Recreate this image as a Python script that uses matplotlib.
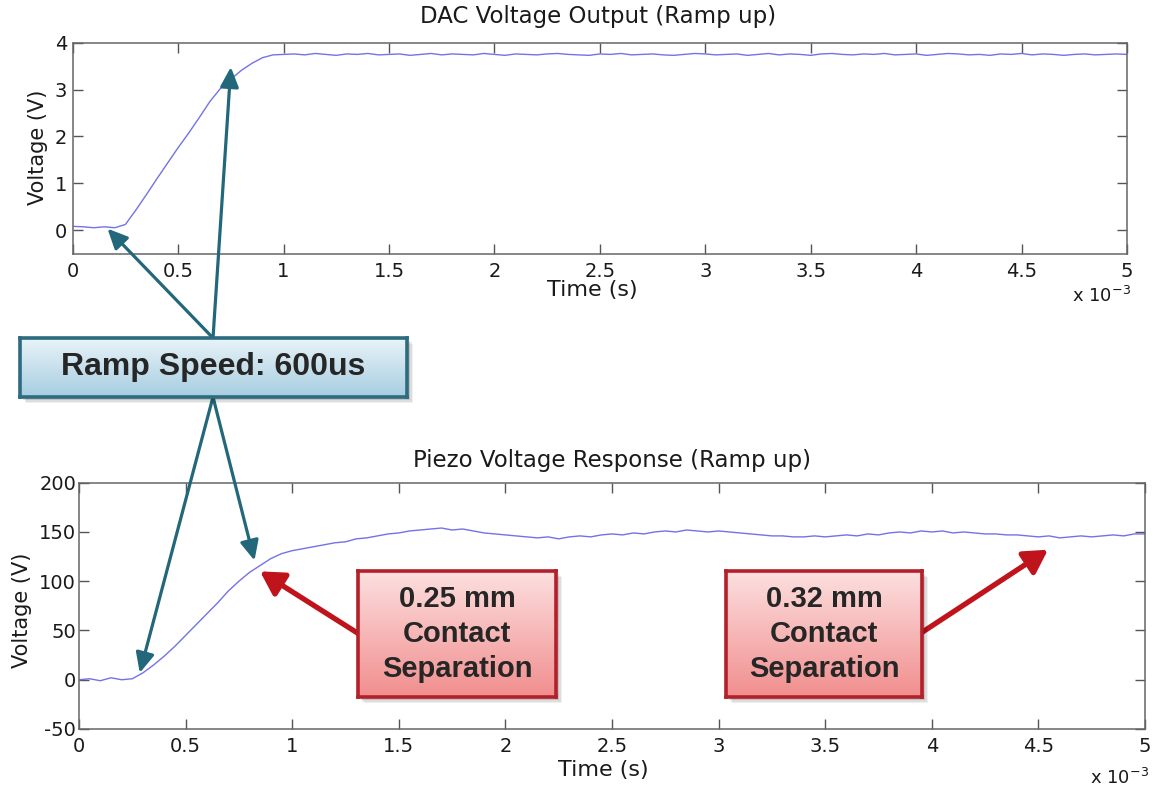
import numpy as np
import matplotlib
matplotlib.use('Agg')
import matplotlib.pyplot as plt
from matplotlib.patches import Rectangle
from matplotlib.colors import LinearSegmentedColormap

# ---------------- data ----------------
time_ms = np.linspace(0, 5, 101)

dac_voltage = [
    0.08, 0.07, 0.05, 0.07, 0.05, 0.12, 0.43, 0.76, 1.10, 1.43,
    1.76, 2.07, 2.40, 2.74, 3.02, 3.22, 3.41, 3.56, 3.68, 3.74,
    3.75,
    3.76, 3.74, 3.77, 3.75, 3.73, 3.76, 3.75, 3.77, 3.74, 3.75,
    3.76, 3.73, 3.75, 3.77, 3.74, 3.76, 3.75, 3.74, 3.77, 3.75,
    3.73, 3.76, 3.75, 3.74, 3.76, 3.77, 3.75, 3.74, 3.73, 3.76,
    3.75, 3.77, 3.74, 3.75, 3.76, 3.74, 3.73, 3.75, 3.77, 3.76,
    3.74, 3.75, 3.76, 3.73, 3.75, 3.77, 3.74, 3.76, 3.75, 3.73,
    3.76, 3.77, 3.75, 3.74, 3.76, 3.75, 3.77, 3.74, 3.75, 3.76,
    3.73, 3.75, 3.77, 3.76, 3.74, 3.75, 3.73, 3.76, 3.75, 3.77,
    3.74, 3.76, 3.75, 3.73, 3.75, 3.76, 3.74, 3.75, 3.76, 3.75,
]

piezo_voltage = [
    0, 1, -1, 2, 0, 1, 7, 15, 24, 34,
    45, 56, 67, 78, 90, 100, 109, 116, 123, 128,
    131, 133, 135, 137, 139, 140, 143, 144, 146, 148,
    149, 151, 152, 153, 154, 152, 153, 151, 149, 148,
    147, 146, 145, 144, 145, 143, 145, 146, 145, 147,
    148, 147, 149, 148, 150, 151, 150, 152, 151, 150,
    151, 150, 149, 148, 147, 146, 146, 145, 145, 146,
    145, 146, 147, 146, 148, 147, 149, 150, 149, 151,
    150, 151, 149, 150, 149, 148, 148, 147, 147, 146,
    145, 146, 144, 145, 146, 145, 146, 147, 146, 148,
    148,
]

x_ticks = [0, 0.5, 1, 1.5, 2, 2.5, 3, 3.5, 4, 4.5, 5]
x_tick_labels = ['0', '0.5', '1', '1.5', '2', '2.5', '3', '3.5', '4', '4.5', '5']
dac_y_ticks = [0, 1, 2, 3, 4]
piezo_y_ticks = [-50, 0, 50, 100, 150, 200]

top_title = 'DAC Voltage Output (Ramp up)'
bottom_title = 'Piezo Voltage Response (Ramp up)'
x_label = 'Time (s)'
y_label = 'Voltage (V)'
ramp_text = 'Ramp Speed: 600us'
sep1_text = '0.25 mm\nContact\nSeparation'
sep2_text = '0.32 mm\nContact\nSeparation'

# arrow targets (data coords: ms, V)
ramp_targets_top = [(0.165, 0.03), (0.75, 3.48)]
ramp_targets_bottom = [(0.285, 7), (0.823, 121)]
sep1_target = (0.849, 110)
sep2_target = (4.545, 132)

# ---------------- figure ----------------
W, H = 1155, 789
fig = plt.figure(figsize=(W / 100, H / 100), dpi=100)
fig.patch.set_facecolor('white')


def fx(px):
    return px / W


def fy(py):
    return 1 - py / H


ax1 = fig.add_axes([fx(72.7), fy(253.5), (1127 - 72.7) / W, (253.5 - 42.7) / H])
ax2 = fig.add_axes([fx(79), fy(729), (1145 - 79) / W, (729 - 482.7) / H])

line_color = '#7272ea'
ax1.plot(time_ms, dac_voltage, color=line_color, lw=1.0)
ax2.plot(time_ms, piezo_voltage, color=line_color, lw=1.0)

ax1.set_ylim(-0.5, 4)
ax1.set_yticks(dac_y_ticks)
ax1.set_yticklabels([str(v) for v in dac_y_ticks])
ax2.set_ylim(-50, 200)
ax2.set_yticks(piezo_y_ticks)
ax2.set_yticklabels([str(v) for v in piezo_y_ticks])

for ax, ypad in ((ax1, 4), (ax2, 2)):
    ax.set_xlim(0, 5)
    ax.set_xticks(x_ticks)
    ax.set_xticklabels(x_tick_labels)
    ax.tick_params(direction='in', length=7, width=1, color='#555555',
                   top=True, right=True, labelsize=14, labelcolor='#1a1a1a')
    ax.tick_params(axis='x', pad=6)
    ax.tick_params(axis='y', pad=ypad)
    for s in ax.spines.values():
        s.set_color('#666666')
        s.set_linewidth(1.1)

txt_col = '#1a1a1a'
fig.text(fx(598), fy(17), top_title, ha='center', va='center', fontsize=16.5, color=txt_col)
fig.text(fx(612), fy(460), bottom_title, ha='center', va='center', fontsize=16.5, color=txt_col)
fig.text(fx(592), fy(290), x_label, ha='center', va='center', fontsize=16, color=txt_col)
fig.text(fx(603), fy(770), x_label, ha='center', va='center', fontsize=16, color=txt_col)
fig.text(fx(38), fy(147), y_label, ha='center', va='center', rotation=90, fontsize=15, color=txt_col)
fig.text(fx(22), fy(610), y_label, ha='center', va='center', rotation=90, fontsize=15, color=txt_col)
fig.text(fx(1072), fy(296), r'x 10$^{-3}$', ha='left', va='center', fontsize=13, color=txt_col)
fig.text(fx(1090), fy(778), r'x 10$^{-3}$', ha='left', va='center', fontsize=13, color=txt_col)

# ---------------- arrows ----------------
teal = '#22677a'
teal_ap = dict(arrowstyle='-|>,head_length=0.6,head_width=0.28', color=teal, lw=2.3,
               shrinkA=0, shrinkB=0, mutation_scale=20)
for tgt in ramp_targets_top:
    ax1.annotate('', xy=tgt, xycoords='data', xytext=(213, H - 338), textcoords='figure pixels',
                 arrowprops=teal_ap, annotation_clip=False)
for tgt in ramp_targets_bottom:
    ax2.annotate('', xy=tgt, xycoords='data', xytext=(213, H - 397), textcoords='figure pixels',
                 arrowprops=teal_ap, annotation_clip=False)

red = '#c0141c'
red_ap = dict(arrowstyle='-|>,head_length=0.7,head_width=0.4', color=red, lw=3.8,
              shrinkA=0, shrinkB=0, mutation_scale=20)
ax2.annotate('', xy=sep1_target, xycoords='data', xytext=(359, H - 634), textcoords='figure pixels',
             arrowprops=red_ap, annotation_clip=False)
ax2.annotate('', xy=sep2_target, xycoords='data', xytext=(921, H - 633), textcoords='figure pixels',
             arrowprops=red_ap, annotation_clip=False)


# ---------------- boxes ----------------
def gradient_box(x0, y0, x1, y1, ctop, cbot, edge, lw, text, fsize, lsp=1.2):
    for off, a in ((6, 0.06), (4.5, 0.08), (3, 0.12)):
        fig.patches.append(Rectangle((fx(x0 + off), fy(y1 + off)), (x1 - x0) / W, (y1 - y0) / H,
                                     transform=fig.transFigure, facecolor='#000000', alpha=a,
                                     edgecolor='none', zorder=5))
    bax = fig.add_axes([fx(x0), fy(y1), (x1 - x0) / W, (y1 - y0) / H], zorder=6)
    grad = np.linspace(0, 1, 256)[:, None]
    cmap = LinearSegmentedColormap.from_list('g', [ctop, cbot])
    bax.imshow(grad, aspect='auto', cmap=cmap, extent=[0, 1, 0, 1], origin='upper')
    bax.set_xlim(0, 1)
    bax.set_ylim(0, 1)
    bax.set_xticks([])
    bax.set_yticks([])
    for s in bax.spines.values():
        s.set_color(edge)
        s.set_linewidth(lw)
    bax.text(0.5, 0.5, text, ha='center', va='center', fontsize=fsize, fontweight='bold',
             family='Liberation Sans', color='#262626', linespacing=lsp, transform=bax.transAxes)
    return bax


gradient_box(20, 338, 407, 397, '#eaf4f9', '#a6cde0', '#2c6b80', 2.6, ramp_text, 23)
gradient_box(358, 571, 556, 697, '#fde0e0', '#f18e8e', '#b3202a', 2.6, sep1_text, 21, 1.33)
gradient_box(726, 571, 922, 697, '#fde0e0', '#f18e8e', '#b3202a', 2.6, sep2_text, 21, 1.33)

fig.savefig('out.png', dpi=100, facecolor='white')
